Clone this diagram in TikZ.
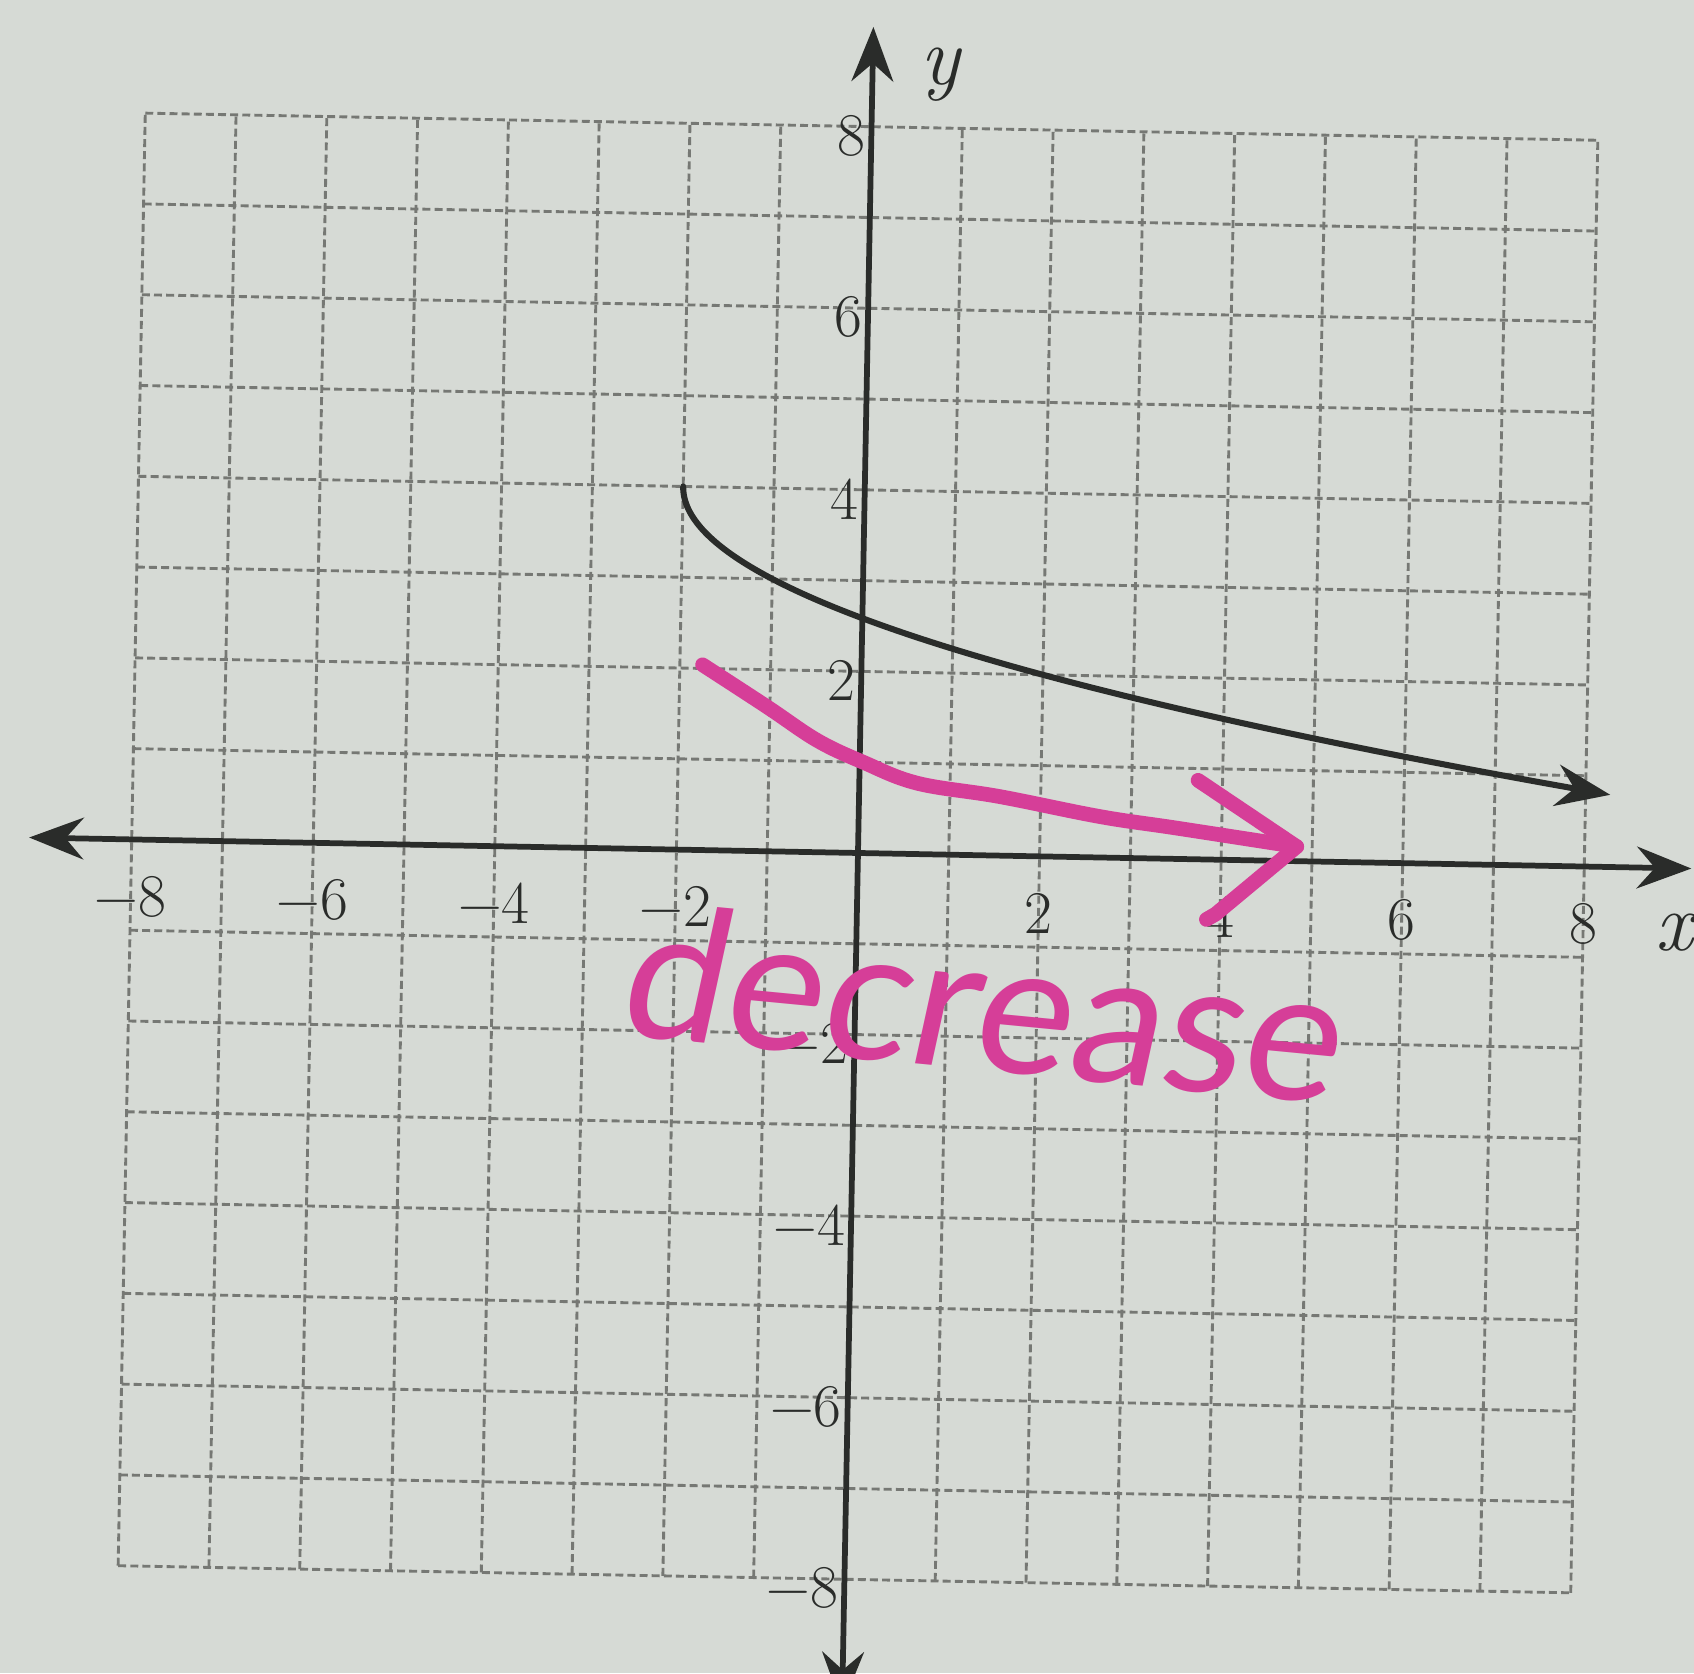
\documentclass[tikz,border=0pt]{standalone}
\usepackage{fontspec}
\usetikzlibrary{arrows.meta}
\newfontfamily\hand[FakeSlant=0.12]{Lato}
\definecolor{paper}{RGB}{214,218,213}
\definecolor{ink}{RGB}{42,44,42}
\definecolor{gridc}{RGB}{118,120,116}
\definecolor{marker}{RGB}{214,62,152}
\tikzset{
  gridline/.style={gridc, line width=0.9pt, dash pattern=on 2.5pt off 1.3pt},
  bigtip/.tip={Stealth[length=0.6cm,width=0.46cm,inset=0.2cm]},
  axisline/.style={ink, line width=1.8pt},
  graphline/.style={ink, line width=1.9pt, line cap=round},
  tick/.style={text=ink, font=\fontsize{19}{19}\selectfont, inner sep=0pt},
  axlabel/.style={text=ink, font=\fontsize{26}{26}\selectfont\itshape, inner sep=0pt},
  pen/.style={marker, line width=4.6pt, line cap=round, line join=round},
  handtext/.style={text=marker, font=\hand\fontsize{58}{58}\selectfont, inner sep=0pt}
}
\begin{document}
\begin{tikzpicture}
\fill[paper] (-9.449,-9.031) rectangle (9.207,9.394);
\useasboundingbox (-9.449,-9.031) rectangle (9.207,9.394);
\begin{scope}[rotate=-1.07]
  % grid
  \foreach \i in {-8,...,8} {
    \draw[gridline] (\i,-8) -- (\i,8);
    \draw[gridline] (-8,\i) -- (8,\i);
  }
  % axes
  \coordinate (xl) at (-9.13,0);
  \coordinate (xr) at (9.18,0);
  \coordinate (yt) at (0,9.1);
  \coordinate (yb) at (0,-9.4);
  \draw[axisline, {bigtip}-{bigtip}] (xl) -- (xr);
  \draw[axisline, {bigtip}-{bigtip}] (yb) -- (yt);
  \node[axlabel] (xlab) at (9.0,-0.71) {x};
  \node[axlabel] (ylab) at (0.74,8.59) {y};
  % tick labels
  \foreach \i/\t in {-8/−8,-6/−6,-4/−4,-2/−2,2/2,4/4,6/6,8/8}
    \node[tick] (xt\i) at (\i,-0.63) {\t};
  \foreach \j/\t in {8/8,6/6,4/4,2/2,-2/−2,-4/−4,-6/−6,-8/−8}
    \node[tick, anchor=east] (yt\j) at (-0.06,\j-0.1) {\t};
  % graph y = 4 - sqrt(x+2)
  \draw[graphline, -{bigtip}] plot[domain=0:3.206, samples=90, variable=\s]
    ({\s*\s-2},{4-\s});
  % handwritten arrow
  \draw[pen] plot[smooth, tension=0.6] coordinates {(-1.75,2.04) (-1.03,1.59) (-0.47,1.23) (0.04,1.0) (0.64,0.78) (1.55,0.65) (2.66,0.45) (3.5,0.34) (4.83,0.16)};
  \draw[pen] (3.73,0.87) -- (4.83,0.16) -- (3.95,-0.6) -- (3.85,-0.66);
  \node[handtext, rotate=-5.5] (word) at (1.37,-1.62) {decrease};
\end{scope}
\end{tikzpicture}
\end{document}
